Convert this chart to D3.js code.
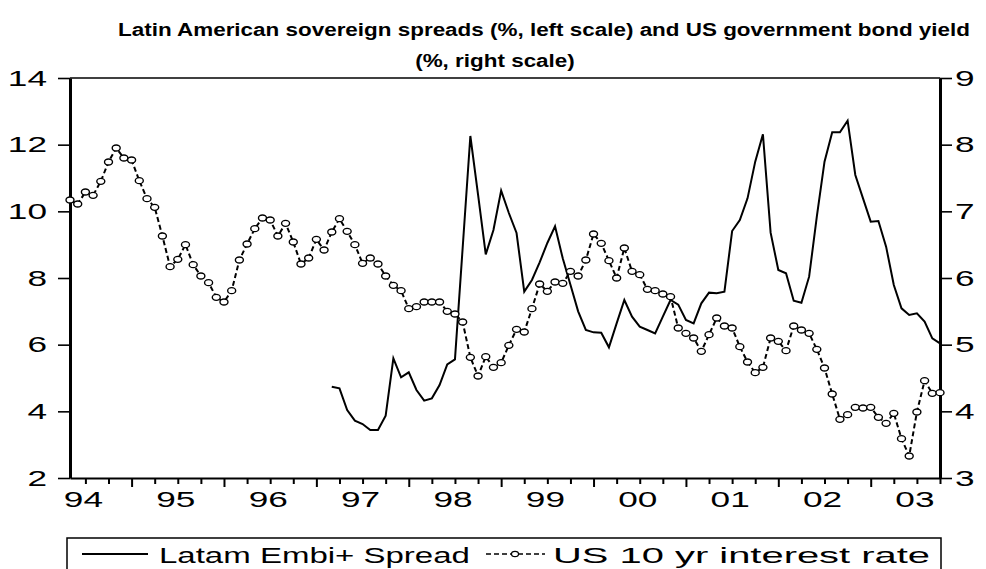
<!DOCTYPE html>
<html>
<head>
<meta charset="utf-8">
<script src="https://cdn.jsdelivr.net/npm/d3@7"></script>
<style>
  body { margin: 0; background: #fff; }
  text { font-family: Arial, "Liberation Sans", sans-serif; fill: #000; }
</style>
</head>
<body>
<div id="canvas"></div>
<script>
// data: monthly, May 1994 .. Oct 2003
const firstMonth = [1994, 5];
const yearLabels = ["94", "95", "96", "97", "98", "99", "00", "01", "02", "03"];
const leftTicks = [2, 4, 6, 8, 10, 12, 14];
const rightTicks = [3, 4, 5, 6, 7, 8, 9];

// US 10 yr interest rate (%, right scale)
const usRate = [
  7.17, 7.11, 7.29, 7.24, 7.45, 7.74, 7.95, 7.80,
  7.77, 7.46, 7.19, 7.06, 6.63, 6.17, 6.28, 6.50, 6.20, 6.03, 5.93, 5.71,
  5.64, 5.81, 6.27, 6.51, 6.74, 6.90, 6.87, 6.63, 6.82, 6.54, 6.21, 6.30,
  6.58, 6.42, 6.69, 6.89, 6.70, 6.50, 6.22, 6.30, 6.21, 6.03, 5.89, 5.81,
  5.54, 5.57, 5.64, 5.64, 5.64, 5.50, 5.46, 5.34, 4.81, 4.53, 4.82, 4.66,
  4.73, 4.99, 5.23, 5.19, 5.54, 5.91, 5.80, 5.94, 5.92, 6.10, 6.03, 6.27,
  6.66, 6.52, 6.26, 6.00, 6.45, 6.10, 6.05, 5.83, 5.81, 5.76, 5.72, 5.25,
  5.17, 5.10, 4.90, 5.15, 5.40, 5.28, 5.25, 4.97, 4.74, 4.58, 4.66, 5.10,
  5.05, 4.91, 5.28, 5.22, 5.17, 4.93, 4.65, 4.26, 3.88, 3.95, 4.06, 4.05,
  4.06, 3.91, 3.82, 3.97, 3.59, 3.33, 3.99, 4.46, 4.27, 4.28
];

// Latam Embi+ spread (%, left scale), starts Mar 1997
const spreadStart = [1997, 3];
const spread = [
  4.74, 4.69, 4.04, 3.72, 3.62, 3.44, 3.44, 3.87, 5.59, 5.02,
  5.17, 4.64, 4.32, 4.39, 4.79, 5.41, 5.56, 8.90, 12.26, 10.50,
  8.71, 9.44, 10.62, 9.95, 9.35, 7.59, 7.94, 8.47, 9.05, 9.55,
  8.59, 7.80, 7.00, 6.44, 6.37, 6.36, 5.92, 6.64, 7.34, 6.84,
  6.54, 6.44, 6.34, 6.84, 7.34, 7.20, 6.74, 6.64, 7.24, 7.56,
  7.54, 7.59, 9.41, 9.74, 10.39, 11.49, 12.31, 9.36, 8.24, 8.14,
  7.32, 7.26, 8.04, 9.84, 11.49, 12.37, 12.37, 12.72, 11.09, 10.39,
  9.69, 9.71, 8.94, 7.79, 7.09, 6.89, 6.94, 6.69, 6.19, 6.04
];

const monthIndex = (y, m) => (y - firstMonth[0]) * 12 + (m - firstMonth[1]);
const spreadOffset = monthIndex(spreadStart[0], spreadStart[1]);

const svg = d3.select("#canvas").append("svg")
  .attr("width", 986)
  .attr("height", 569);

const plot = { left: 70, right: 940, top: 78, bottom: 478 };

const x = d3.scaleLinear()
  .domain([0, usRate.length - 1])
  .range([plot.left, plot.right]);
const yL = d3.scaleLinear().domain([2, 14]).range([plot.bottom, plot.top]);
const yR = d3.scaleLinear().domain([3, 9]).range([plot.bottom, plot.top]);

// widen glyphs horizontally like the original export
function stretch(sel, k) {
  sel.each(function () {
    const w = this.getComputedTextLength();
    d3.select(this).attr("textLength", w * k).attr("lengthAdjust", "spacingAndGlyphs");
  });
}

// title
const t1 = svg.append("text")
  .attr("x", 544).attr("y", 36)
  .attr("text-anchor", "middle")
  .style("font-size", "17.5px").style("font-weight", "bold")
  .text("Latin American sovereign spreads (%, left scale) and US government bond yield");
const titleK = 852 / t1.node().getComputedTextLength();
t1.attr("textLength", 852).attr("lengthAdjust", "spacingAndGlyphs");
const t2 = svg.append("text")
  .attr("x", 495).attr("y", 67)
  .attr("text-anchor", "middle")
  .style("font-size", "17.5px").style("font-weight", "bold")
  .text("(%, right scale)");
stretch(t2, titleK);

// top border
svg.append("line")
  .attr("x1", plot.left).attr("x2", plot.right)
  .attr("y1", plot.top).attr("y2", plot.top)
  .attr("stroke", "#000").attr("stroke-width", 1.6);

// x axis: quarterly ticks, long ones at January
const quarterTicks = d3.range(0, usRate.length).filter(i => ((firstMonth[1] - 1 + i) % 3) === 0);
const xAxisGroup = svg.append("g")
  .attr("transform", `translate(0, ${plot.bottom})`)
  .call(d3.axisBottom(x).tickValues(quarterTicks).tickFormat("").tickSizeOuter(0));
xAxisGroup.select(".domain").attr("stroke-width", 2.2);
xAxisGroup.selectAll(".tick line")
  .attr("stroke-width", 2)
  .attr("y2", d => ((firstMonth[1] - 1 + d) % 12 === 0) ? 9 : 6);

const yearLab = svg.append("g").selectAll("text")
  .data(yearLabels)
  .enter().append("text")
  .attr("x", (d, i) => x(monthIndex(1994 + i, 1) + 5.75))
  .attr("y", 507)
  .attr("text-anchor", "middle")
  .style("font-size", "22px")
  .text(d => d);
stretch(yearLab, 1.6);
yearLab.attr("x", function (d, i) {
  const w = +this.getAttribute("textLength");
  return Math.min(x(monthIndex(1994 + i, 1) + 5.75), plot.right - 4 - w / 2);
});

// left axis
const yAxisL = svg.append("g")
  .attr("transform", `translate(${plot.left}, 0)`)
  .call(d3.axisLeft(yL).tickValues(leftTicks).tickFormat(d3.format("d"))
    .tickSize(12).tickPadding(11).tickSizeOuter(0));
yAxisL.select(".domain").attr("stroke-width", 3);
yAxisL.selectAll(".tick line").attr("stroke-width", 1.6);
yAxisL.selectAll(".tick text").style("font-size", "22px").style("font-family", "Arial, 'Liberation Sans', sans-serif");
stretch(yAxisL.selectAll(".tick text"), 1.6);

// right axis
const yAxisR = svg.append("g")
  .attr("transform", `translate(${plot.right}, 0)`)
  .call(d3.axisRight(yR).tickValues(rightTicks).tickFormat(d3.format("d"))
    .tickSize(12).tickPadding(3).tickSizeOuter(0));
yAxisR.select(".domain").attr("stroke-width", 3);
yAxisR.selectAll(".tick line").attr("stroke-width", 1.6);
yAxisR.selectAll(".tick text").style("font-size", "22px").style("font-family", "Arial, 'Liberation Sans', sans-serif");
stretch(yAxisR.selectAll(".tick text"), 1.6);

// spread line (solid)
const spreadLine = d3.line()
  .x((d, i) => x(spreadOffset + i))
  .y(d => yL(d));
svg.append("path")
  .datum(spread)
  .attr("fill", "none")
  .attr("stroke", "#000")
  .attr("stroke-width", 2)
  .attr("stroke-linejoin", "miter")
  .attr("d", spreadLine);

// US rate (dashed with circles)
const usLine = d3.line()
  .x((d, i) => x(i))
  .y(d => yR(d));
svg.append("path")
  .datum(usRate)
  .attr("fill", "none")
  .attr("stroke", "#000")
  .attr("stroke-width", 2)
  .attr("stroke-dasharray", "5,3")
  .attr("d", usLine);
svg.append("g").selectAll("ellipse")
  .data(usRate)
  .enter().append("ellipse")
  .attr("cx", (d, i) => x(i))
  .attr("cy", d => yR(d))
  .attr("rx", 4)
  .attr("ry", 3)
  .attr("fill", "#fff")
  .attr("stroke", "#000")
  .attr("stroke-width", 1.4);

// legend
const legend = svg.append("g");
legend.append("rect")
  .attr("x", 67).attr("y", 538)
  .attr("width", 874).attr("height", 60)
  .attr("fill", "none").attr("stroke", "#000").attr("stroke-width", 1.5);
legend.append("line")
  .attr("x1", 82).attr("x2", 148).attr("y1", 554).attr("y2", 554)
  .attr("stroke", "#000").attr("stroke-width", 2);
const lt1 = legend.append("text")
  .attr("x", 159).attr("y", 563)
  .style("font-size", "22px")
  .text("Latam Embi+ Spread");
stretch(lt1, 1.5);
legend.append("line")
  .attr("x1", 486).attr("x2", 545).attr("y1", 554).attr("y2", 554)
  .attr("stroke", "#000").attr("stroke-width", 1.5)
  .attr("stroke-dasharray", "5,3");
legend.append("ellipse")
  .attr("cx", 515).attr("cy", 554).attr("rx", 3.5).attr("ry", 2.6)
  .attr("fill", "#fff").attr("stroke", "#000").attr("stroke-width", 1.2);
const lt2 = legend.append("text")
  .attr("x", 553).attr("y", 563)
  .style("font-size", "22px")
  .text("US 10 yr interest rate");
lt2.attr("textLength", 930 - 553).attr("lengthAdjust", "spacingAndGlyphs");
</script>
</body>
</html>
